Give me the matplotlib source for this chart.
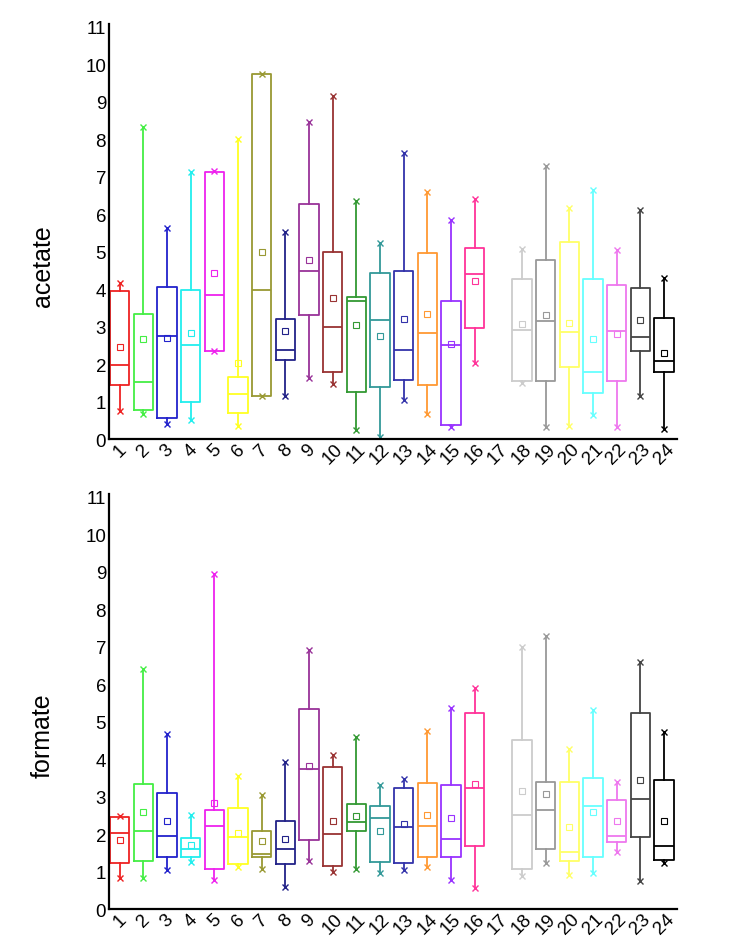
import numpy as np
import matplotlib
matplotlib.use("Agg")
import matplotlib.pyplot as plt

plt.rcParams['font.family'] = ['Liberation Sans', 'DejaVu Sans']

groups = [str(i) for i in range(1, 25)]
colors = ['#ee2222', '#44ee44', '#2222cc', '#22eeee', '#ee22ee', '#ffff22',
          '#999933', '#222288', '#993399', '#993333', '#339933', '#339999',
          '#3333aa', '#ff9933', '#9933ff', '#ff3399', None, '#cccccc',
          '#999999', '#ffff66', '#66ffff', '#ee77ee', '#444444', '#000000']

# acetate (group 17 has no data)
ac_max = [4.16, 8.31, 5.64, 7.11, 7.14, 8.00, 9.73, 5.51, 8.46, 9.16, 6.34, 5.23,
          7.64, 6.60, 5.85, 6.41, None, 5.07, 7.29, 6.16, 6.65, 5.03, 6.11, 4.30]
ac_q3 = [3.96, 3.33, 4.06, 3.97, 7.12, 1.65, 9.73, 3.20, 6.27, 5.00, 3.80, 4.42,
         4.47, 4.95, 3.68, 5.09, None, 4.27, 4.78, 5.26, 4.27, 4.10, 4.02, 3.22]
ac_med = [1.97, 1.51, 2.76, 2.52, 3.84, 1.21, 3.98, 2.37, 4.49, 2.99, 3.69, 3.17,
          2.38, 2.84, 2.52, 4.39, None, 2.92, 3.14, 2.86, 1.78, 2.89, 2.71, 2.08]
ac_q1 = [1.44, 0.78, 0.55, 0.99, 2.36, 0.70, 1.16, 2.12, 3.31, 1.79, 1.25, 1.38,
         1.58, 1.44, 0.37, 2.95, None, 1.55, 1.54, 1.93, 1.23, 1.56, 2.35, 1.80]
ac_min = [0.75, 0.67, 0.40, 0.51, 2.34, 0.36, 1.16, 1.16, 1.63, 1.48, 0.23, 0.06,
          1.04, 0.67, 0.31, 2.02, None, 1.49, 0.31, 0.36, 0.64, 0.33, 1.14, 0.27]
ac_mean = [2.46, 2.68, 2.69, 2.84, 4.44, 2.04, 4.98, 2.87, 4.77, 3.77, 3.03, 2.76,
           3.20, 3.33, 2.54, 4.21, None, 3.07, 3.32, 3.09, 2.68, 2.81, 3.18, 2.29]

# formate
fo_max = [2.49, 6.40, 4.67, 2.52, 8.93, 3.54, 3.05, 3.91, 6.91, 4.12, 4.60, 3.31,
          3.47, 4.76, 5.35, 5.89, None, 6.99, 7.27, 4.27, 5.32, 3.40, 6.58, 4.72]
fo_q3 = [2.45, 3.33, 3.10, 1.90, 2.65, 2.70, 2.09, 2.35, 5.33, 3.80, 2.80, 2.76,
         3.24, 3.36, 3.31, 5.24, None, 4.52, 3.40, 3.40, 3.50, 2.92, 5.24, 3.45]
fo_med = [2.02, 2.07, 1.96, 1.59, 2.21, 1.93, 1.47, 1.59, 3.73, 2.01, 2.32, 2.42,
          2.19, 2.22, 1.88, 3.22, None, 2.52, 2.63, 1.53, 2.76, 1.96, 2.93, 1.69]
fo_q1 = [1.23, 1.29, 1.40, 1.39, 1.08, 1.20, 1.39, 1.19, 1.85, 1.16, 2.09, 1.25,
         1.24, 1.40, 1.40, 1.69, None, 1.08, 1.59, 1.28, 1.38, 1.80, 1.92, 1.31]
fo_min = [0.84, 0.84, 1.04, 1.26, 0.78, 1.13, 1.07, 0.58, 1.27, 1.00, 1.07, 0.95,
          1.04, 1.11, 0.78, 0.55, None, 0.87, 1.24, 0.91, 0.95, 1.53, 0.74, 1.23]
fo_mean = [1.84, 2.58, 2.34, 1.71, 2.84, 2.04, 1.81, 1.87, 3.81, 2.35, 2.48, 2.07,
           2.26, 2.52, 2.44, 3.34, None, 3.14, 3.08, 2.20, 2.60, 2.34, 3.44, 2.36]


def draw(ax, vmax, q3, med, q1, vmin, mean, label):
    pos = np.arange(1, len(groups) + 1)
    for i in range(len(groups)):
        if med[i] is None:
            continue
        c = colors[i]
        st = [dict(med=med[i], q1=q1[i], q3=q3[i], whislo=vmin[i],
                   whishi=vmax[i], mean=mean[i], fliers=[])]
        ax.bxp(st, positions=[pos[i]], widths=0.82, showmeans=True,
               showcaps=False, manage_ticks=False,
               boxprops=dict(color=c, linewidth=1.3),
               medianprops=dict(color=c, linewidth=1.3),
               whiskerprops=dict(color=c, linewidth=1.3),
               meanprops=dict(marker='s', markerfacecolor='none',
                              markeredgecolor=c, markersize=4.5,
                              markeredgewidth=0.8))
        ax.plot([pos[i], pos[i]], [vmin[i], vmax[i]], ls='none', marker='x',
                color=c, markersize=4.5, mew=1.0)
    ax.set_xlim(0.535, 24.55)
    ax.set_ylim(0, 11.07)
    ax.set_yticks(range(0, 12))
    ax.set_xticks(pos)
    ax.set_xticklabels(groups, rotation=45, ha='center', va='top')
    ax.tick_params(axis='both', length=0, labelsize=13.5, pad=2)
    ax.tick_params(axis='x', pad=1)
    for s in ['top', 'right']:
        ax.spines[s].set_visible(False)
    for s in ['left', 'bottom']:
        ax.spines[s].set_linewidth(1.6)
    ax.set_ylabel(label, fontsize=18)
    ax.yaxis.set_label_coords(-0.095, 0.42)


fig = plt.figure(figsize=(7.35, 9.37), dpi=100)
ax1 = fig.add_axes([0.148, 0.5304, 0.773, 0.443])
ax2 = fig.add_axes([0.148, 0.0288, 0.773, 0.443])
draw(ax1, ac_max, ac_q3, ac_med, ac_q1, ac_min, ac_mean, 'acetate')
draw(ax2, fo_max, fo_q3, fo_med, fo_q1, fo_min, fo_mean, 'formate')
fig.savefig('out.png', dpi=100)
